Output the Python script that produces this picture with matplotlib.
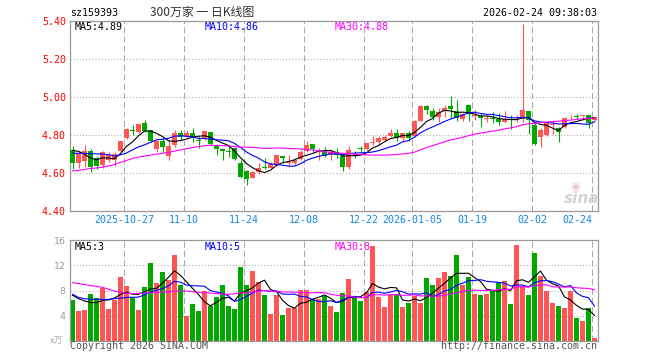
import numpy as np
import pandas as pd
import matplotlib
matplotlib.use("Agg")
import matplotlib.pyplot as plt

# ---------------------------------------------------------------------------
# Data
# ---------------------------------------------------------------------------

opens = [4.721, 4.656, 4.665, 4.717, 4.679, 4.644, 4.670, 4.670, 4.717, 4.784,
         4.826, 4.819, 4.863, 4.828, 4.728, 4.772, 4.693, 4.749, 4.810, 4.793,
         4.810, 4.775, 4.784, 4.816, 4.749, 4.728, 4.719, 4.735, 4.652, 4.612,
         4.577, 4.609, 4.630, 4.630, 4.644, 4.691, 4.652, 4.656, 4.674, 4.717,
         4.754, 4.714, 4.719, 4.696, 4.710, 4.691, 4.635, 4.698, 4.731, 4.728,
         4.758, 4.766, 4.775, 4.796, 4.814, 4.787, 4.810, 4.798, 4.875, 4.951,
         4.928, 4.893, 4.928, 4.951, 4.928, 4.886, 4.960, 4.903, 4.903, 4.886,
         4.889, 4.886, 4.868, 4.886, 4.882, 4.886, 4.928, 4.851, 4.788, 4.802,
         4.854, 4.836, 4.845, 4.893, 4.898, 4.900, 4.907, 4.880]
highs = [4.745, 4.715, 4.749, 4.728, 4.688, 4.717, 4.711, 4.711, 4.770, 4.837,
         4.854, 4.866, 4.881, 4.828, 4.775, 4.784, 4.775, 4.828, 4.828, 4.828,
         4.837, 4.798, 4.823, 4.819, 4.754, 4.728, 4.749, 4.740, 4.670, 4.617,
         4.612, 4.652, 4.679, 4.661, 4.696, 4.691, 4.696, 4.682, 4.723, 4.770,
         4.754, 4.731, 4.740, 4.728, 4.735, 4.705, 4.745, 4.717, 4.745, 4.761,
         4.798, 4.798, 4.802, 4.833, 4.833, 4.814, 4.823, 4.881, 4.956, 4.960,
         4.942, 4.942, 4.960, 5.007, 4.986, 4.916, 4.960, 4.933, 4.916, 4.907,
         4.921, 4.916, 4.928, 4.907, 4.907, 5.386, 4.928, 4.863, 4.837, 4.875,
         4.872, 4.845, 4.893, 4.907, 4.910, 4.903, 4.907, 4.903]
lows = [4.623, 4.626, 4.635, 4.609, 4.623, 4.630, 4.661, 4.640, 4.714, 4.779,
        4.802, 4.810, 4.816, 4.766, 4.711, 4.714, 4.670, 4.740, 4.775, 4.784,
        4.766, 4.735, 4.775, 4.749, 4.696, 4.670, 4.684, 4.670, 4.574, 4.539,
        4.574, 4.596, 4.623, 4.626, 4.640, 4.652, 4.640, 4.644, 4.667, 4.709,
        4.714, 4.670, 4.684, 4.667, 4.679, 4.612, 4.623, 4.679, 4.705, 4.723,
        4.749, 4.749, 4.770, 4.789, 4.772, 4.766, 4.770, 4.793, 4.872, 4.910,
        4.880, 4.868, 4.893, 4.889, 4.875, 4.875, 4.875, 4.880, 4.845, 4.868,
        4.863, 4.854, 4.863, 4.833, 4.868, 4.868, 4.805, 4.749, 4.740, 4.798,
        4.805, 4.766, 4.837, 4.886, 4.886, 4.880, 4.840, 4.872]
closes = [4.656, 4.705, 4.717, 4.635, 4.640, 4.710, 4.696, 4.702, 4.770, 4.831,
          4.823, 4.859, 4.824, 4.770, 4.772, 4.740, 4.745, 4.810, 4.793, 4.810,
          4.789, 4.770, 4.823, 4.754, 4.726, 4.719, 4.709, 4.675, 4.582, 4.570,
          4.609, 4.630, 4.626, 4.647, 4.696, 4.679, 4.661, 4.670, 4.714, 4.749,
          4.726, 4.717, 4.691, 4.714, 4.696, 4.635, 4.723, 4.693, 4.728, 4.758,
          4.761, 4.787, 4.793, 4.814, 4.784, 4.814, 4.784, 4.875, 4.951, 4.933,
          4.898, 4.924, 4.945, 4.938, 4.889, 4.910, 4.910, 4.907, 4.889, 4.889,
          4.886, 4.868, 4.886, 4.882, 4.886, 4.933, 4.882, 4.754, 4.828, 4.863,
          4.858, 4.819, 4.889, 4.898, 4.895, 4.903, 4.863, 4.893]

# volume, in 万
volumes = [6.5, 4.7, 4.9, 7.4, 6.8, 8.4, 5.0, 6.5, 10.1, 8.7,
           6.8, 4.9, 8.5, 12.3, 9.2, 10.9, 9.6, 13.6, 8.8, 3.9,
           5.8, 4.7, 7.9, 5.5, 6.9, 8.8, 5.5, 5.0, 11.7, 8.8,
           11.1, 9.3, 7.3, 4.2, 7.3, 4.1, 5.2, 5.2, 8.1, 8.1,
           6.6, 6.6, 7.1, 5.5, 4.6, 7.6, 9.8, 6.8, 6.3, 7.7,
           15.0, 6.9, 5.4, 7.4, 7.4, 5.4, 6.0, 7.1, 6.0, 10.0,
           8.8, 10.0, 10.9, 10.3, 13.6, 8.8, 10.1, 7.4, 7.3, 7.4,
           7.9, 9.3, 9.5, 5.8, 15.2, 8.7, 7.3, 13.9, 10.3, 7.9,
           6.0, 5.5, 5.2, 7.9, 3.6, 3.1, 5.2, 0.4]

# moving-average values on the left edge, where the window reaches back
# before the first visible day
ma5_head = [4.72, 4.715, 4.70, 4.68]
ma10_head = [4.705, 4.705, 4.704, 4.703, 4.702, 4.700, 4.698, 4.690, 4.697]
ma30_head = [4.612, 4.615, 4.620, 4.625, 4.628, 4.632, 4.638, 4.646, 4.657, 4.667,
             4.678, 4.685, 4.690, 4.695, 4.700, 4.705, 4.710, 4.716, 4.723, 4.729,
             4.735, 4.740, 4.745, 4.747, 4.746, 4.745, 4.743, 4.740, 4.737]
vma5_head = [7.25, 6.7, 6.35, 6.1]
vma10_head = [7.4, 6.9, 6.7, 6.6, 6.6, 6.6, 6.6, 6.7, 6.8]
vma30_head = [9.25, 9.1, 8.95, 8.8, 8.65, 8.5, 8.2, 7.9, 7.7, 7.55,
              7.5, 7.55, 7.6, 7.65, 7.7, 7.75, 7.8, 7.9, 7.95, 7.9,
              7.8, 7.7, 7.65, 7.6, 7.5, 7.45, 7.4, 7.5, 7.6]

tick_days = [9, 19, 29, 39, 49, 57, 67, 77, 87]
tick_labels = ["2025-10-27", "11-10", "11-24", "12-08", "12-22",
               "2026-01-05", "01-19", "02-02", "02-24"]

price_ticks = [4.40, 4.60, 4.80, 5.00, 5.20, 5.40]
volume_ticks = [4, 8, 12, 16]

title_code = "sz159393"
title_name = "300万家 一 日K线图"
timestamp = "2026-02-24 09:38:03"
price_legend = ["MA5:4.89", "MA10:4.86", "MA30:4.88"]
volume_legend = ["MA5:3", "MA10:5", "MA30:8"]

# ---------------------------------------------------------------------------
# Styling
# ---------------------------------------------------------------------------

RED = "#ff5555"
GREEN = "#00a800"
MA_COLORS = ["#000000", "#0000ff", "#ff00ff"]
GRID = "#aaaaaa"
FRAME = "#999999"
MONO = "DejaVu Sans Mono"
CJK = ["Noto Sans CJK SC", "DejaVu Sans"]

W, H = 660, 360


def fx(px):
    return px / W


def fy(py):
    return 1 - py / H


def moving_avg(values, n, head):
    out = pd.Series(values).rolling(n).mean().to_numpy()
    out[:len(head)] = head
    return out


x = np.arange(len(closes))
o, h, l, c = (np.array(v) for v in (opens, highs, lows, closes))
vol = np.array(volumes)
up = c >= o
colors = np.where(up, RED, GREEN)

fig = plt.figure(figsize=(6.6, 3.6), dpi=100)
ax = fig.add_axes([fx(70), fy(211.3), fx(598) - fx(70), fy(21) - fy(211.3)])
axv = fig.add_axes([fx(70), fy(341), fx(598) - fx(70), fy(240) - fy(341)])

bar_w = 5 / 6
xlim = (-5 / 12, len(closes) - 5 / 12)

# --- price panel ---
ax.vlines(x, l, h, colors=colors, linewidth=0.8, zorder=2)
ax.bar(x, np.maximum(np.abs(c - o), 0.005), bottom=np.minimum(o, c),
       width=bar_w, color=colors, linewidth=0, zorder=3)

for vals, n, head, col in zip([c, c, c], [5, 10, 30],
                              [ma5_head, ma10_head, ma30_head], MA_COLORS):
    ax.plot(x, moving_avg(vals, n, head), color=col, linewidth=0.8, zorder=4)

for p in price_ticks[1:-1]:
    ax.axhline(p, color=GRID, linestyle=(0, (1, 2)), linewidth=0.75, zorder=0.5)
for d in tick_days:
    ax.axvline(d - 0.4, color=GRID, linestyle=(0, (6, 3)), linewidth=0.75, zorder=0.5)

ax.set_xlim(*xlim)
ax.set_ylim(price_ticks[0], price_ticks[-1])
ax.set_yticks(price_ticks)
ax.set_yticklabels([f"{p:.2f}" for p in price_ticks], color="#ff0000",
                   fontfamily=MONO, fontsize=7.2)
ax.set_xticks([d - 0.4 for d in tick_days])
ax.set_xticklabels(tick_labels, color="#1686e0", fontfamily=MONO, fontsize=7.2)
ax.get_xticklabels()[-1].set_ha("right")
ax.tick_params(length=0, pad=3)

# --- volume panel ---
axv.bar(x, vol, width=bar_w, color=colors, linewidth=0, zorder=2)
for vals, n, head, col in zip([vol, vol, vol], [5, 10, 30],
                              [vma5_head, vma10_head, vma30_head], MA_COLORS):
    axv.plot(x, moving_avg(vals, n, head), color=col, linewidth=0.8, zorder=4)

for v in volume_ticks[:-1]:
    axv.axhline(v, color=GRID, linestyle=(0, (1, 2)), linewidth=0.75, zorder=0.5)
for d in tick_days:
    axv.axvline(d - 0.4, color=GRID, linestyle=(0, (6, 3)), linewidth=0.75, zorder=0.5)

axv.set_xlim(*xlim)
axv.set_ylim(0, volume_ticks[-1])
axv.set_xticks([])
axv.set_yticks(volume_ticks)
axv.set_yticklabels([str(v) for v in volume_ticks], color="#999999",
                    fontfamily="DejaVu Sans", fontsize=6.8)
axv.tick_params(length=0, pad=3)

for a in (ax, axv):
    for spine in a.spines.values():
        spine.set_color(FRAME)
        spine.set_linewidth(0.9)

# --- texts ---
fig.text(fx(70), fy(12.5), title_code, ha="left", va="center",
         fontfamily=MONO, fontsize=7.2, color="#000000")
fig.text(fx(150), fy(12.5), title_name, ha="left", va="center",
         family=CJK, fontsize=8.6, color="#333333")
fig.text(fx(597), fy(12.5), timestamp, ha="right", va="center",
         fontfamily=MONO, fontsize=7.2, color="#000000")

for i, (txt, col) in enumerate(zip(price_legend, MA_COLORS)):
    fig.text(fx(74.5 + 130 * i), fy(26.5), txt, ha="left", va="center",
             fontfamily=MONO, fontsize=7.2, color=col)
for i, (txt, col) in enumerate(zip(volume_legend, MA_COLORS)):
    fig.text(fx(74.5 + 130 * i), fy(247), txt, ha="left", va="center",
             fontfamily=MONO, fontsize=7.2, color=col)

fig.text(fx(63), fy(341), "x万", ha="right", va="center",
         family=CJK, fontsize=6.5, color="#aaaaaa")
fig.text(fx(70), fy(346), "Copyright 2026 SINA.COM", ha="left", va="center",
         fontfamily=MONO, fontsize=7.2, color="#555555")
fig.text(fx(597), fy(346), "http://finance.sina.com.cn", ha="right", va="center",
         fontfamily=MONO, fontsize=7.2, color="#555555")

# sina watermark
fig.text(fx(575), fy(187), "◉", ha="center", va="center",
         fontsize=8, color="#f0c8c8")
fig.text(fx(582), fy(198), "sina", ha="center", va="center",
         fontsize=11, fontweight="bold", fontstyle="italic", color="#d4d4d4")

fig.savefig("out.png", dpi=100)
